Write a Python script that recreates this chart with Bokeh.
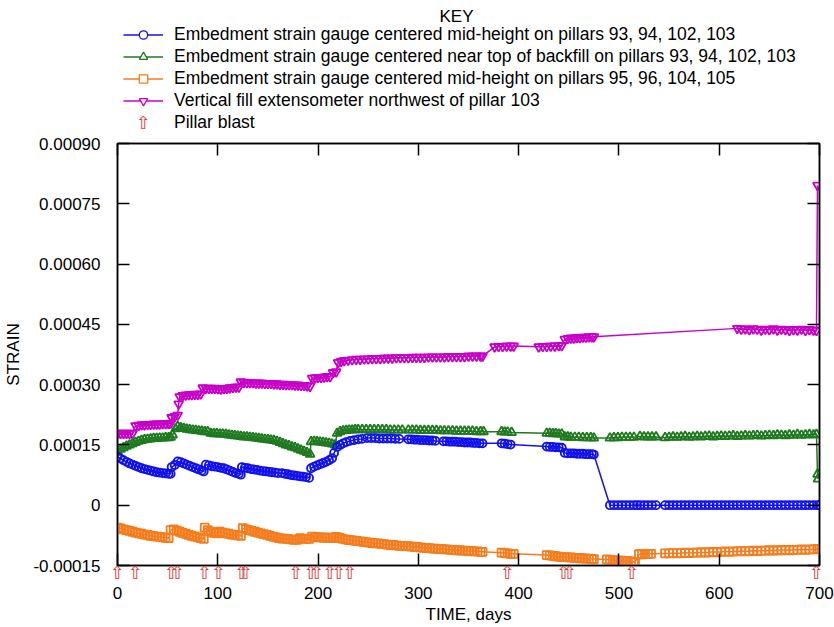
from bokeh.plotting import figure
from bokeh.layouts import column
from bokeh.models import (Range1d, LinearAxis, FixedTicker, ColumnDataSource,
                          Label, Legend, LegendItem, AllLabels)
from bokeh.embed import file_html
from bokeh.resources import INLINE

SCALE = 1e-5  # values below are strain x 1e-5

BLUE = [(0,12.1),(3,11.6),(6,11.2),(9,10.8),(12,10.4),(15,10.1),(18,9.8),(21,9.5),(24,9.2),(27,9.0),
        (30,8.8),(33,8.6),(36,8.4),(39,8.2),(42,8.1),(45,8.0),(48,7.9),(51,7.8),(53,7.8),(54,9.5),
        (57,10.0),(60,10.9),(63,10.7),(66,10.4),(69,10.1),(72,9.8),(75,9.5),(78,9.2),(81,8.9),(84,8.6),
        (86,8.4),(88,10.1),(91,9.9),(94,9.7),(97,9.6),(100,9.5),(103,9.3),(106,9.2),(109,8.9),(112,8.6),
        (115,8.3),(118,8.0),(121,7.8),(123,7.6),(124,9.5),(127,9.3),(130,9.2),(133,9.0),(136,8.9),(139,8.8),
        (142,8.6),(145,8.5),(148,8.4),(151,8.3),(154,8.2),(157,8.1),(160,8.0),(164,8.0),(167,7.8),(170,7.7),
        (173,7.5),(176,7.4),(179,7.3),(182,7.2),(185,7.1),(188,7.0),(191,6.8),(193,9.2),(196,9.6),(199,9.9),
        (202,10.2),(205,10.5),(208,10.8),(211,11.2),(214,11.7),(216,13.0),(219,14.5),(222,15.0),(225,15.4),
        (228,15.7),(232,16.0),(236,16.2),(240,16.4),(244,16.5),(249,16.7),(253,16.7),(257,16.7),(261,16.6),
        (265,16.6),(269,16.6),(273,16.6),(277,16.5),(281,16.5),(290,16.4),(293,16.4),(296,16.3),(299,16.3),
        (302,16.2),(305,16.2),(308,16.2),(311,16.1),(314,16.1),(317,16.0),(325,15.9),(328,15.9),(331,15.8),
        (334,15.8),(337,15.8),(340,15.7),(343,15.7),(346,15.6),(349,15.6),(352,15.6),(355,15.5),(358,15.5),
        (361,15.4),(364,15.4),(383,15.4),(386,15.3),(389,15.2),(392,15.1),(428,14.6),(431,14.5),(434,14.5),
        (437,14.4),(440,14.4),(443,14.3),(446,13.0),(449,12.9),(452,12.9),(455,12.9),(458,12.8),(461,12.8),
        (464,12.8),(467,12.7),(470,12.7),(473,12.7),(475,12.6),(491,0.0),(495,0.0),(499,0.0),(503,0.0),
        (507,0.0),(511,0.0),(515,0.0),(518,0.0),(521,0.0),(525,0.0),(529,0.0),(533,0.0),(537,0.0),(546,0.0),
        (550,0.0),(554,0.0),(558,0.0),(562,0.0),(566,0.0),(570,0.0),(574,0.0),(578,0.0),(582,0.0),(586,0.0),
        (590,0.0),(594,0.0),(598,0.0),(602,0.0),(606,0.0),(610,0.0),(614,0.0),(618,0.0),(622,0.0),(626,0.0),
        (630,0.0),(634,0.0),(638,0.0),(642,0.0),(646,0.0),(650,0.0),(654,0.0),(658,0.0),(662,0.0),(666,0.0),
        (670,0.0),(674,0.0),(678,0.0),(682,0.0),(686,0.0),(690,0.0),(694,0.0),(698,0.0),(700,0.0)]

GREEN = [(0,13.4),(3,13.9),(6,14.3),(9,14.7),(12,15.0),(15,15.3),(18,15.6),(21,15.9),(24,16.1),(27,16.3),
         (30,16.4),(33,16.5),(36,16.6),(39,16.6),(42,16.7),(45,16.7),(48,16.8),(51,16.8),(53,16.9),(55,17.5),
         (58,19.0),(60,19.6),(63,19.3),(66,19.1),(69,18.9),(72,18.8),(75,18.7),(78,18.6),(81,18.5),(84,18.4),
         (87,18.3),(90,18.3),(93,17.9),(96,17.8),(99,17.8),(102,17.7),(105,17.7),(108,17.6),(111,17.5),(114,17.4),
         (117,17.3),(120,17.2),(123,17.1),(126,17.0),(129,17.0),(132,16.9),(135,16.8),(138,16.7),(141,16.6),
         (144,16.5),(147,16.4),(150,16.3),(153,16.2),(156,16.1),(159,15.9),(162,15.6),(165,15.3),(168,15.0),
         (171,14.8),(174,14.5),(177,14.3),(180,14.0),(183,13.7),(186,13.4),(189,13.1),(192,12.7),(193,15.8),
         (196,15.9),(199,15.8),(202,15.7),(205,15.6),(208,15.5),(211,15.4),(214,15.2),(217,15.0),(219,17.9),
         (222,18.3),(225,18.5),(228,18.6),(231,18.7),(234,18.7),(237,18.8),(240,18.8),(244,18.8),(248,18.8),
         (252,18.8),(256,18.8),(260,18.8),(264,18.8),(268,18.8),(272,18.7),(276,18.7),(280,18.7),(284,18.7),
         (290,18.7),(294,18.7),(298,18.7),(302,18.6),(306,18.6),(310,18.6),(314,18.6),(318,18.6),(322,18.5),
         (326,18.5),(330,18.5),(334,18.5),(338,18.4),(342,18.4),(346,18.4),(350,18.4),(354,18.4),(358,18.3),
         (362,18.3),(365,18.3),(383,18.3),(386,18.2),(389,18.2),(393,18.1),(428,17.9),(431,17.9),(434,17.8),
         (437,17.8),(440,17.7),(443,17.7),(446,17.0),(449,17.0),(452,16.9),(456,16.9),(460,16.9),(464,16.8),
         (468,16.8),(472,16.8),(475,16.7),(491,16.7),(495,16.8),(499,16.8),(503,16.9),(507,16.9),(511,16.9),
         (515,16.9),(521,17.1),(525,17.0),(529,17.0),(533,17.0),(537,17.0),(546,16.8),(550,16.9),(554,17.0),
         (558,16.9),(562,17.0),(566,17.1),(570,16.9),(574,17.0),(578,17.1),(582,17.0),(586,17.1),(590,17.2),
         (594,17.0),(598,17.1),(602,17.2),(606,17.1),(610,17.2),(614,17.3),(618,17.1),(622,17.2),(626,17.3),
         (630,17.2),(634,17.3),(638,17.4),(642,17.2),(646,17.3),(650,17.4),(654,17.3),(658,17.5),(662,17.4),
         (666,17.3),(670,17.5),(674,17.4),(678,17.6),(682,17.4),(686,17.5),(690,17.6),(694,17.5),(697,17.6),
         (698,7.7),(698.5,6.5)]

ORANGE = [(0,-5.6),(3,-5.8),(6,-6.0),(9,-6.2),(12,-6.4),(15,-6.6),(18,-6.8),(21,-7.0),(24,-7.1),(27,-7.3),
          (30,-7.4),(33,-7.6),(36,-7.7),(39,-7.8),(42,-7.9),(45,-8.0),(48,-8.1),(51,-8.2),(53,-6.2),(56,-6.0),
          (59,-6.3),(62,-6.6),(65,-6.9),(68,-7.1),(71,-7.4),(74,-7.6),(77,-7.8),(80,-8.0),(83,-8.2),(86,-8.4),
          (87,-5.6),(90,-6.2),(93,-6.6),(96,-6.9),(99,-7.0),(102,-6.6),(105,-6.8),(108,-7.0),(111,-7.1),
          (114,-7.3),(117,-7.4),(120,-7.5),(123,-7.6),(125,-5.7),(128,-6.0),(131,-6.2),(134,-6.4),(137,-6.6),
          (140,-6.8),(143,-7.0),(146,-7.2),(149,-7.4),(152,-7.6),(155,-7.8),(158,-8.0),(161,-8.2),(164,-8.3),
          (167,-8.3),(170,-8.4),(173,-8.5),(176,-8.6),(179,-8.6),(182,-8.2),(185,-8.3),(188,-8.4),(191,-8.4),
          (194,-7.8),(197,-7.9),(200,-8.0),(203,-8.0),(206,-8.1),(209,-8.1),(212,-8.1),(215,-8.2),(218,-7.9),
          (221,-8.1),(224,-8.3),(227,-8.5),(230,-8.6),(233,-8.7),(236,-8.8),(239,-8.9),(242,-9.0),(245,-9.1),
          (248,-9.2),(251,-9.3),(254,-9.4),(257,-9.5),(260,-9.5),(263,-9.6),(266,-9.7),(269,-9.8),(272,-9.9),
          (275,-9.9),(278,-10.0),(281,-10.1),(284,-10.1),(287,-10.2),(290,-10.2),(293,-10.3),(296,-10.4),
          (299,-10.4),(302,-10.5),(305,-10.6),(308,-10.6),(311,-10.7),(314,-10.8),(317,-10.8),(320,-10.9),
          (323,-10.9),(326,-11.0),(329,-11.0),(332,-11.1),(335,-11.1),(338,-11.2),(341,-11.2),(344,-11.3),
          (347,-11.3),(350,-11.4),(353,-11.4),(356,-11.5),(359,-11.5),(362,-11.6),(364,-11.6),(383,-11.8),
          (386,-11.9),(389,-12.0),(392,-12.1),(395,-12.1),(428,-12.4),(431,-12.5),(434,-12.6),(437,-12.7),
          (440,-12.8),(443,-12.9),(446,-12.9),(449,-13.0),(452,-13.0),(455,-13.1),(458,-13.1),(461,-13.2),
          (464,-13.2),(467,-13.3),(470,-13.3),(473,-13.4),(475,-13.4),(488,-13.5),(491,-13.6),(494,-13.7),
          (497,-13.7),(500,-13.8),(503,-13.8),(506,-13.9),(509,-13.9),(512,-14.0),(515,-14.1),(516,-14.2),
          (520,-12.2),(523,-12.2),(526,-12.1),(529,-12.1),(532,-12.1),(546,-12.0),(550,-12.0),(554,-11.9),
          (558,-12.0),(562,-11.9),(566,-11.8),(570,-11.9),(574,-11.8),(578,-11.8),(582,-11.7),(586,-11.8),
          (590,-11.7),(594,-11.6),(598,-11.7),(602,-11.6),(606,-11.5),(610,-11.6),(614,-11.5),(618,-11.5),
          (622,-11.4),(626,-11.5),(630,-11.4),(634,-11.3),(638,-11.4),(642,-11.3),(646,-11.3),(650,-11.2),
          (654,-11.3),(658,-11.2),(662,-11.2),(666,-11.1),(670,-11.2),(674,-11.1),(678,-11.1),(682,-11.0),
          (686,-11.1),(690,-11.0),(694,-11.0),(698,-10.9),(700,-10.9)]

MAGENTA = [(0,17.9),(3,17.9),(6,17.9),(9,17.9),(12,17.9),(15,17.9),(18,19.8),(21,19.9),(24,20.0),(27,20.0),
           (30,20.1),(33,20.1),(36,20.2),(39,20.2),(42,20.2),(45,20.3),(48,20.3),(51,20.3),(53,20.4),(54,21.8),
           (57,22.1),(60,22.4),(61,25.2),(62,27.0),(65,27.3),(68,27.4),(71,27.5),(74,27.5),(77,27.6),(80,27.6),
           (83,27.7),(85,29.2),(88,29.1),(91,29.1),(94,29.1),(97,29.1),(100,29.0),(103,28.9),(106,29.0),
           (109,29.1),(112,29.2),(115,29.3),(118,29.4),(121,29.4),(123,30.7),(126,30.6),(129,30.5),(132,30.5),
           (135,30.5),(138,30.4),(141,30.4),(144,30.4),(147,30.3),(150,30.3),(153,30.3),(156,30.2),(159,30.2),
           (162,30.1),(165,30.1),(168,30.0),(171,30.0),(174,30.0),(177,29.9),(180,29.9),(183,29.8),(186,29.8),
           (189,29.7),(192,29.6),(194,31.6),(197,31.7),(200,31.8),(203,31.8),(206,31.9),(209,32.0),(212,32.0),
           (215,33.0),(218,33.2),(220,35.5),(223,35.8),(226,36.0),(230,36.1),(234,36.2),(238,36.3),(242,36.3),
           (246,36.4),(250,36.4),(254,36.5),(258,36.5),(262,36.5),(266,36.6),(270,36.6),(274,36.6),(278,36.7),
           (282,36.7),(286,36.7),(290,36.7),(294,36.8),(298,36.8),(302,36.8),(306,36.8),(310,36.9),(314,36.9),
           (318,36.9),(322,36.9),(326,36.9),(330,37.0),(334,37.0),(338,37.0),(342,37.0),(346,37.0),(350,37.1),
           (354,37.1),(358,37.1),(362,37.1),(364,37.1),(376,39.4),(380,39.5),(384,39.5),(388,39.6),(392,39.6),
           (395,39.6),(420,39.4),(424,39.5),(428,39.5),(432,39.6),(436,39.6),(440,39.7),(443,39.7),(446,41.3),
           (449,41.5),(452,41.6),(455,41.6),(458,41.7),(461,41.7),(464,41.8),(467,41.8),(470,41.9),(473,41.9),
           (475,41.9),(618,44.0),(622,43.8),(626,43.9),(630,43.7),(634,43.9),(638,43.8),(642,43.6),(646,43.8),
           (650,43.7),(654,43.9),(658,43.6),(662,43.8),(666,43.7),(670,43.5),(674,43.7),(678,43.6),(682,43.8),
           (686,43.5),(690,43.7),(694,43.6),(697,43.5),(698,79.6)]

BLAST_DAYS = [0, 18, 54, 60, 87, 101, 124, 128, 178, 193, 199, 212, 221, 232, 389, 445, 451, 513, 697]

SERIES_LABELS = [
    "Embedment strain gauge centered mid-height on pillars 93, 94, 102, 103",
    "Embedment strain gauge centered near top of backfill on pillars 93, 94, 102, 103",
    "Embedment strain gauge centered mid-height on pillars 95, 96, 104, 105",
    "Vertical fill extensometer northwest of pillar 103",
    "Pillar blast",
]
KEY_TITLE = "KEY"
ARROW = "\u21e7"
X_TICKS = [0, 100, 200, 300, 400, 500, 600, 700]
Y_TICKS = [-0.00015, 0.0, 0.00015, 0.0003, 0.00045, 0.0006, 0.00075, 0.0009]
Y_TICK_LABELS = ["-0.00015", "0", "0.00015", "0.00030", "0.00045", "0.00060", "0.00075", "0.00090"]
X_MIN, X_MAX = 0, 700
Y_MIN, Y_MAX = -0.00015, 0.0009

FONT = "Liberation Sans"
C_BLUE, C_GREEN, C_ORANGE, C_MAG, C_RED = "#1010f0", "#1e7a1e", "#f57d1e", "#c800c8", "#e03a3a"
STYLES = [(C_BLUE, "circle", 8), (C_GREEN, "triangle", 9), (C_ORANGE, "square", 8),
          (C_MAG, "inverted_triangle", 9)]

W = 834
TOP_H = 133
MAIN_H = 494
FRAME_L, FRAME_R = 117, 819   # key strip frame is aligned with the main frame

# ---------------- key (legend) strip ----------------
key = figure(width=W, height=TOP_H, output_backend="svg", toolbar_location=None,
             x_range=Range1d(FRAME_L, FRAME_R), y_range=Range1d(TOP_H, 0), min_border=0,
             x_axis_location=None, y_axis_location=None)
key.grid.visible = False
key.outline_line_color = None

NAN = float("nan")
items = []
for (color, marker, size), label in zip(STYLES, SERIES_LABELS[:4]):
    ln = key.line([NAN], [NAN], line_color=color, line_width=1.5)
    sc = key.scatter([NAN], [NAN], marker=marker, size=7, line_color=color, fill_color="white",
                     line_width=1.3)
    items.append(LegendItem(label=label, renderers=[ln, sc]))
items.append(LegendItem(label=SERIES_LABELS[4], renderers=[]))

legend = Legend(items=items, location=(6, 0), orientation="vertical", padding=0, margin=0,
                spacing=1, glyph_width=40, glyph_height=21, label_height=21, label_standoff=11,
                label_text_font=FONT, label_text_font_size="17.5px", label_text_color="black",
                background_fill_alpha=0, border_line_color=None)
key.add_layout(legend, "center")
key.add_layout(Label(x=456, y=16, text=KEY_TITLE, text_align="center", text_baseline="middle",
                     text_font=FONT, text_font_size="17px", text_color="black"))
key.add_layout(Label(x=143, y=122, text=ARROW, text_align="center", text_baseline="middle",
                     text_font="DejaVu Sans", text_font_size="18px", text_color=C_RED))

# ---------------- main plot ----------------
p = figure(width=W, height=MAIN_H, output_backend="svg", toolbar_location=None,
           x_range=Range1d(X_MIN, X_MAX), y_range=Range1d(Y_MIN, Y_MAX),
           x_axis_location=None,
           min_border_left=117, min_border_right=15, min_border_top=10, min_border_bottom=62)
p.grid.visible = False
p.outline_line_color = "black"
p.outline_line_width = 1.5

# bottom spine carrying the pillar-blast arrows (as labels) and the inward x ticks (as minor ticks)
blast_axis = LinearAxis(ticker=FixedTicker(ticks=BLAST_DAYS, minor_ticks=X_TICKS),
                        major_tick_line_color=None, major_tick_in=0, major_tick_out=0,
                        minor_tick_in=12, minor_tick_out=0, minor_tick_line_color="black",
                        minor_tick_line_width=1.5, axis_line_width=1.5,
                        major_label_overrides={d: ARROW for d in BLAST_DAYS},
                        major_label_policy=AllLabels(),
                        major_label_text_font="DejaVu Sans", major_label_text_font_size="18px",
                        major_label_text_color=C_RED, major_label_standoff=-4)
p.add_layout(blast_axis, "below")

xaxis = LinearAxis(ticker=FixedTicker(ticks=X_TICKS), axis_line_color=None,
                   major_tick_line_color=None, major_tick_in=0, major_tick_out=0,
                   minor_tick_line_color=None, major_label_text_font=FONT,
                   major_label_text_font_size="17px", major_label_text_color="black",
                   major_label_standoff=1, axis_label="TIME, days", axis_label_text_font=FONT,
                   axis_label_text_font_size="17px", axis_label_text_font_style="normal",
                   axis_label_text_color="black", axis_label_standoff=3)
p.add_layout(xaxis, "below")

ya = p.yaxis[0]
ya.ticker = FixedTicker(ticks=Y_TICKS)
ya.major_label_overrides = dict(zip(Y_TICKS, Y_TICK_LABELS))
ya.major_tick_in = 12
ya.major_tick_out = 0
ya.minor_tick_line_color = None
ya.axis_line_width = 1.5
ya.major_tick_line_width = 1.5
ya.major_label_text_font = FONT
ya.major_label_text_font_size = "17px"
ya.major_label_text_color = "black"
ya.major_label_standoff = 17
ya.axis_label = "STRAIN"
ya.axis_label_text_font = FONT
ya.axis_label_text_font_size = "17px"
ya.axis_label_text_font_style = "normal"
ya.axis_label_text_color = "black"
ya.axis_label_standoff = 7

def mirror_axis(ticks):
    return LinearAxis(ticker=FixedTicker(ticks=ticks), major_tick_in=12, major_tick_out=0,
                      minor_tick_line_color=None, major_label_text_font_size="1px",
                      major_label_text_color=None, major_label_standoff=0,
                      axis_line_width=1.5, major_tick_line_width=1.5)

p.add_layout(mirror_axis(Y_TICKS), "right")
p.add_layout(mirror_axis(X_TICKS), "above")

def add_series(pairs, color, marker, size):
    src = ColumnDataSource(dict(x=[d for d, _ in pairs], y=[v * SCALE for _, v in pairs]))
    p.line("x", "y", source=src, line_color=color, line_width=1.5)
    p.scatter("x", "y", source=src, marker=marker, size=size, line_color=color,
              fill_color=None, line_width=1.8)

add_series(MAGENTA, *STYLES[3])
add_series(ORANGE, *STYLES[2])
add_series(GREEN, *STYLES[1])
add_series(BLUE, *STYLES[0])

layout = column(key, p, spacing=0)
open("out.html", "w").write(file_html(layout, INLINE))
